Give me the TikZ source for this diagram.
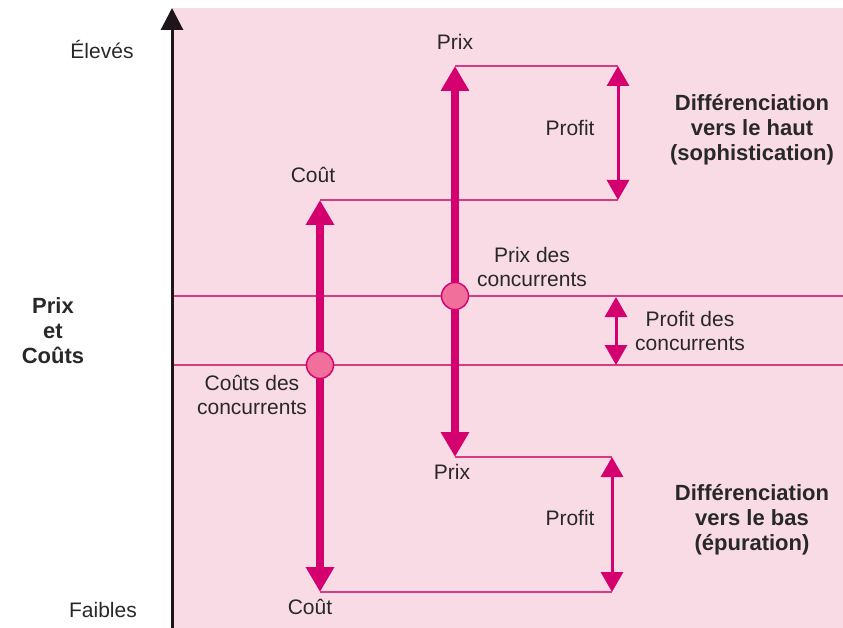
\documentclass[tikz,border=0pt]{standalone}
\usepackage{fontspec}
\setmainfont{Liberation Sans}
\usetikzlibrary{arrows.meta}

\definecolor{bgpink}{RGB}{249,219,229}
\definecolor{deepmag}{RGB}{212,0,111}
\definecolor{dotpink}{RGB}{240,112,155}
\definecolor{thinmag}{RGB}{214,60,130}
\definecolor{txt}{RGB}{40,40,40}
\definecolor{axisink}{RGB}{30,20,25}

\begin{document}
\begin{tikzpicture}[x=1pt,y=-1pt,
  lbl/.style={text=txt, font=\fontsize{21}{24}\selectfont, align=center, inner sep=0pt},
  headline/.style={lbl, font=\bfseries\fontsize{22}{25}\selectfont},
  guide/.style={draw=thinmag, line width=1.3pt},
  bigarrow/.style={draw=deepmag, line width=7.5pt, -{Triangle[width=27pt,length=25pt]}},
  gaparrow/.style={draw=deepmag, line width=3pt, {Triangle[width=22pt,length=20pt]}-{Triangle[width=22pt,length=20pt]}},
  dot/.style={circle, draw=deepmag, fill=dotpink, line width=1.4pt, minimum size=27pt, inner sep=0pt}]

\useasboundingbox (0,0) rectangle (843,628);

% plotting area
\fill[bgpink] (172,8) rectangle (843,628);

% key points
\coordinate (axbot) at (172,628);
\coordinate (axtop) at (172,8);
\coordinate (pcL) at (172,296);
\coordinate (pcR) at (843,296);
\coordinate (ccL) at (172,365);
\coordinate (ccR) at (843,365);
\coordinate (prixH) at (455,66);
\coordinate (prixL) at (455,457);
\coordinate (coutH) at (320,200);
\coordinate (coutL) at (320,592);
\coordinate (upA) at (618,66);
\coordinate (upB) at (618,200);
\coordinate (dnA) at (612,457);
\coordinate (dnB) at (612,592);
\coordinate (midA) at (616,297);
\coordinate (midB) at (616,365);

% reference levels of the competitors
\draw[guide] (pcL) -- (pcR);
\draw[guide] (ccL) -- (ccR);

% thin guides to the profit brackets
\draw[guide] (prixH) -- (upA);
\draw[guide] (coutH) -- (upB);
\draw[guide] (prixL) -- (dnA);
\draw[guide] (coutL) -- (dnB);

% vertical axis
\draw[axisink, line width=3pt, -{Triangle[width=22pt,length=22pt]}] (axbot) -- (axtop);

% competitor markers
\node[dot] (pc) at (455,296) {};
\node[dot] (cc) at (320,365) {};

% shifts of price and cost
\draw[bigarrow] (pc) -- (prixH);
\draw[bigarrow] (pc) -- (prixL);
\draw[bigarrow] (cc) -- (coutH);
\draw[bigarrow] (cc) -- (coutL);

% profit margins
\draw[gaparrow] (upA) -- (upB);
\draw[gaparrow] (dnA) -- (dnB);
\draw[gaparrow] (midA) -- (midB);

% labels
\node[lbl] (eleves) at (102,50) {Élevés};
\node[lbl] (faibles) at (103,610) {Faibles};
\node[headline] (axname) at (53,331) {Prix\\et\\Coûts};
\node[lbl] (prixtop) at (455,42) {Prix};
\node[lbl] (couttop) at (313,175) {Coût};
\node[lbl] (profittop) at (570,128) {Profit};
\node[headline] (haut) at (752,130) {Différenciation\\vers le haut\\(sophistication)};
\node[lbl] (prixconc) at (532,267) {Prix des\\concurrents};
\node[lbl] (profitconc) at (690,331) {Profit des\\concurrents};
\node[lbl] (coutconc) at (252,395) {Coûts des\\concurrents};
\node[lbl] (prixbot) at (452,472) {Prix};
\node[lbl] (profitbot) at (570,518) {Profit};
\node[headline] (bas) at (752,520) {Différenciation\\vers le bas\\(épuration)};
\node[lbl] (coutbot) at (310,607) {Coût};
\end{tikzpicture}
\end{document}
